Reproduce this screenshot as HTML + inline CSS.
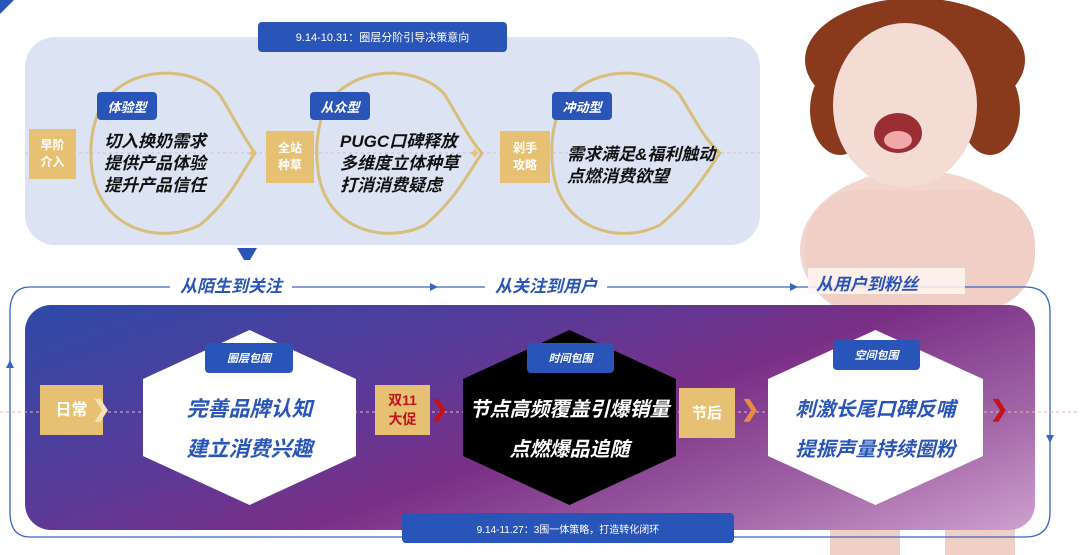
<!DOCTYPE html>
<html><head><meta charset="utf-8"><style>
*{margin:0;padding:0;box-sizing:border-box}
body{width:1080px;height:555px;background:#fff;position:relative;overflow:hidden;font-family:"Liberation Sans","Noto Sans CJK SC",sans-serif}
.a{position:absolute}
.blue{background:#2a55b8;color:#fff;border-radius:4px;display:flex;align-items:center;justify-content:center}
.gold{background:#e6c173;color:#fff;display:flex;align-items:center;justify-content:center;text-align:center;font-size:12px;line-height:17px;font-weight:bold}
.it{font-style:italic;font-weight:bold}
.hex{clip-path:polygon(50% 0,100% 28%,100% 72%,50% 100%,0 72%,0 28%)}
</style></head><body>
<!-- baby -->
<svg class="a" style="left:0;top:0" width="1080" height="555">
<ellipse cx="915" cy="250" rx="115" ry="80" fill="#f2d5cd"/>
<rect x="805" y="190" width="230" height="120" rx="55" fill="#f0cfc6"/>
<rect x="830" y="520" width="70" height="35" fill="#efcfc6"/>
<rect x="945" y="520" width="70" height="35" fill="#efcfc6"/>
<ellipse cx="915" cy="60" rx="110" ry="62" fill="#8a3a1c"/>
<ellipse cx="840" cy="110" rx="30" ry="45" fill="#8a3a1c"/>
<ellipse cx="990" cy="110" rx="30" ry="45" fill="#8a3a1c"/>
<ellipse cx="905" cy="105" rx="72" ry="82" fill="#f4dcd5"/>
<ellipse cx="898" cy="133" rx="24" ry="20" fill="#9b2e35"/>
<ellipse cx="898" cy="140" rx="14" ry="9" fill="#f1a8a8"/>
</svg>
<!-- top panel -->
<div class="a" style="left:25px;top:37px;width:735px;height:208px;background:#dce4f3;border-radius:30px"></div>
<svg class="a" style="left:0;top:0" width="780" height="260">
<line x1="25" y1="153" x2="760" y2="153" stroke="#e3b5c9" stroke-dasharray="3,3"/>
<g fill="none" stroke="#d8be7a" stroke-width="3">
<path d="M105 100 C140 60 200 70 220 95 C235 120 245 140 255 153 C240 175 230 200 200 225 C160 245 100 230 92 170 C88 140 95 115 105 100Z"/>
<path d="M330 100 C365 60 425 70 445 95 C460 120 470 140 482 153 C467 175 455 200 425 225 C385 245 325 230 318 170 C314 140 320 115 330 100Z"/>
<path d="M565 100 C600 60 660 70 680 95 C695 120 705 140 720 153 C705 175 690 200 660 225 C620 245 560 230 553 170 C549 140 555 115 565 100Z"/>
</g>
<text x="246" y="159" fill="#e6c173" font-size="16">✦</text>
<text x="468" y="159" fill="#e6c173" font-size="16">✦</text>
<polygon points="237,248 257,248 247,265" fill="#2a55b8"/>
</svg>
<div class="a blue" style="left:258px;top:22px;width:249px;height:30px;font-size:11px">9.14-10.31：圈层分阶引导决策意向</div>
<div class="a blue it" style="left:97px;top:92px;width:60px;height:28px;font-size:13px">体验型</div>
<div class="a blue it" style="left:310px;top:92px;width:60px;height:28px;font-size:13px">从众型</div>
<div class="a blue it" style="left:552px;top:92px;width:60px;height:28px;font-size:13px">冲动型</div>
<div class="a gold" style="left:29px;top:129px;width:47px;height:50px">早阶<br>介入</div>
<div class="a gold" style="left:266px;top:131px;width:48px;height:52px">全站<br>种草</div>
<div class="a gold" style="left:500px;top:131px;width:50px;height:52px">剁手<br>攻略</div>
<div class="a it" style="left:104px;top:131px;font-size:17px;line-height:22px;color:#111">切入换奶需求<br>提供产品体验<br>提升产品信任</div>
<div class="a it" style="left:340px;top:131px;font-size:17px;line-height:22px;color:#111">PUGC口碑释放<br>多维度立体种草<br>打消消费疑虑</div>
<div class="a it" style="left:567px;top:144px;font-size:17px;line-height:22px;color:#111">需求满足&amp;福利触动<br>点燃消费欲望</div>
<!-- loop -->
<svg class="a" style="left:0;top:0" width="1080" height="555">
<path d="M30 287 H1025 Q1050 287 1050 312 V512 Q1050 537 1025 537 H30 Q10 537 10 512 V312 Q10 287 30 287Z" fill="none" stroke="#3a63c6" stroke-width="1.3"/>
</svg>
<div class="a" style="left:25px;top:305px;width:1010px;height:225px;border-radius:26px;background:linear-gradient(160deg,#2d4aa8 0%,#5a3a98 35%,#7a2f86 55%,#a368a8 80%,#cfa0cf 100%)"></div>
<svg class="a" style="left:0;top:0" width="1080" height="555">
<line x1="0" y1="412" x2="1080" y2="412" stroke="#e3b5c9" stroke-dasharray="3,3"/>
<polygon points="430,283 438,287 430,291" fill="#3a63c6"/>
<polygon points="790,283 798,287 790,291" fill="#3a63c6"/>
<polygon points="1046,435 1054,435 1050,443" fill="#3a63c6"/>
<polygon points="6,368 14,368 10,360" fill="#3a63c6"/>
</svg>
<div class="a it" style="left:170px;top:272px;padding:0 10px;background:#fff;color:#2a55b8;font-size:17px">从陌生到关注</div>
<div class="a it" style="left:485px;top:272px;padding:0 10px;background:#fff;color:#2a55b8;font-size:17px">从关注到用户</div>
<div class="a it" style="left:808px;top:268px;width:157px;height:26px;padding:2px 8px;background:rgba(255,245,240,.85);color:#2a55b8;font-size:17px">从用户到粉丝</div>
<div class="a hex" style="left:143px;top:330px;width:213px;height:175px;background:#fff"></div>
<div class="a hex" style="left:463px;top:330px;width:213px;height:175px;background:#000"></div>
<div class="a hex" style="left:768px;top:330px;width:215px;height:175px;background:#fff"></div>
<div class="a blue it" style="left:205px;top:343px;width:88px;height:30px;font-size:11px">圈层包围</div>
<div class="a blue it" style="left:527px;top:343px;width:87px;height:30px;font-size:11px">时间包围</div>
<div class="a blue it" style="left:833px;top:340px;width:87px;height:30px;font-size:11px">空间包围</div>
<div class="a it" style="left:143px;top:390px;width:213px;text-align:center;font-size:21px;line-height:40px;color:#2a55b8">完善品牌认知<br>建立消费兴趣</div>
<div class="a it" style="left:455px;top:390px;width:229px;text-align:center;font-size:20px;line-height:40px;color:#fff">节点高频覆盖引爆销量<br>点燃爆品追随</div>
<div class="a it" style="left:768px;top:390px;width:215px;text-align:center;font-size:20px;line-height:40px;color:#2a55b8">刺激长尾口碑反哺<br>提振声量持续圈粉</div>
<div class="a gold" style="left:40px;top:385px;width:63px;height:50px;font-size:16px">日常</div>
<div class="a gold" style="left:375px;top:385px;width:55px;height:50px;font-size:14px;color:#c0141e;line-height:19px">双11<br>大促</div>
<div class="a gold" style="left:679px;top:388px;width:56px;height:50px;font-size:15px">节后</div>
<div class="a" style="left:92px;top:396px;color:#f3e3b0;font-size:22px;font-weight:bold">❯</div>
<div class="a" style="left:430px;top:396px;color:#c0141e;font-size:22px;font-weight:bold">❯</div>
<div class="a" style="left:741px;top:396px;color:#e88a4a;font-size:22px;font-weight:bold">❯</div>
<div class="a" style="left:990px;top:396px;color:#c0141e;font-size:22px;font-weight:bold">❯</div>
<div class="a blue" style="left:402px;top:513px;width:332px;height:30px;font-size:10px">9.14-11.27：3围一体策略，打造转化闭环</div>
<div class="a" style="left:0;top:0;width:0;height:0;border-top:14px solid #2a55b8;border-right:14px solid transparent"></div>
</body></html>
